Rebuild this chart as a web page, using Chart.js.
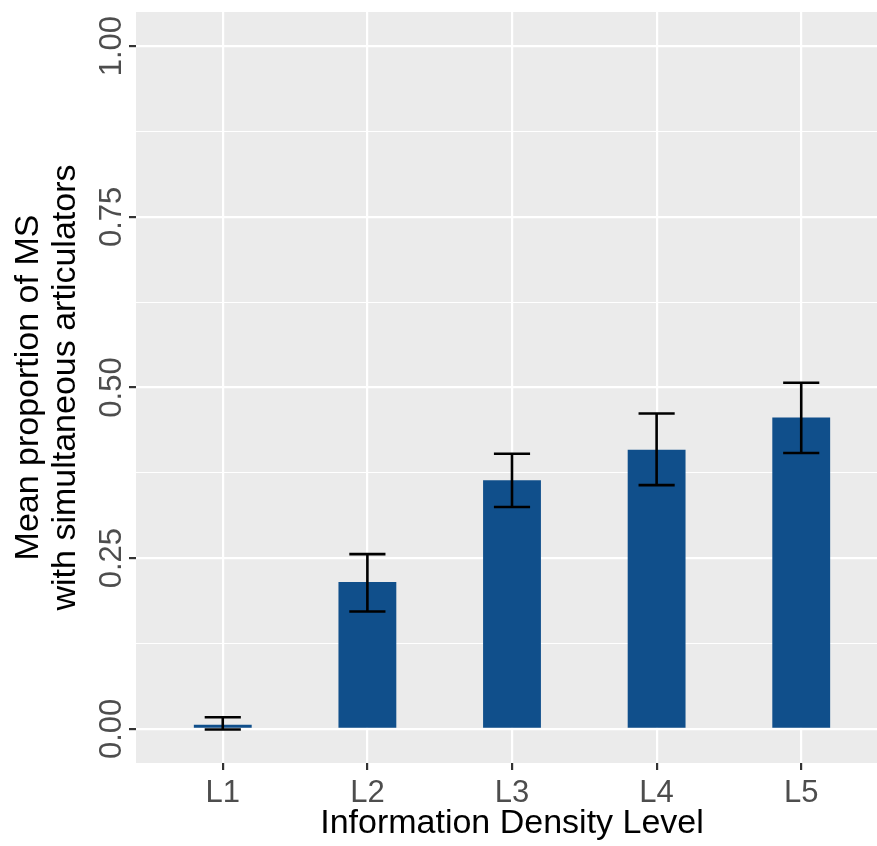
<!DOCTYPE html>
<html>
<head>
<meta charset="UTF-8">
<title>Information Density Level</title>
<script src="https://cdn.jsdelivr.net/npm/chart.js"></script>
<style>
html, body { margin: 0; background: #fff; overflow: hidden; }
</style>
</head>
<body>
<!-- the original plot is cropped on the right, so the canvas is a bit wider than the window -->
<canvas id="chart" width="888" height="846"></canvas>
<script>
// data
const levels = ["L1", "L2", "L3", "L4", "L5"];
const positions = [1, 2, 3, 4, 5];
const meanProp = [0.006, 0.215, 0.364, 0.409, 0.456];
const errLow = [-0.001, 0.172, 0.325, 0.357, 0.404];
const errHigh = [0.017, 0.256, 0.403, 0.462, 0.507];
const yMajor = [0, 0.25, 0.5, 0.75, 1];
const yMinor = [0.125, 0.375, 0.625, 0.875];
const yLabels = ["0.00", "0.25", "0.50", "0.75", "1.00"];

const FONT = '"Liberation Sans", Arial, sans-serif';

function isMajor(c) {
  return c.tick && yMajor.indexOf(c.tick.value) !== -1;
}

// grey ggplot panel
const panelBg = {
  id: 'panelBg',
  beforeDraw(chart) {
    const ctx = chart.ctx, a = chart.chartArea;
    ctx.save();
    ctx.fillStyle = '#ffffff';
    ctx.fillRect(0, 0, chart.width, chart.height);
    ctx.fillStyle = '#EBEBEB';
    ctx.fillRect(a.left, a.top, a.right - a.left, a.bottom - a.top);
    ctx.restore();
  }
};

// error bars on top of the bars
const errorBars = {
  id: 'errorBars',
  afterDatasetsDraw(chart) {
    const ctx = chart.ctx, xs = chart.scales.x, ys = chart.scales.y;
    ctx.save();
    ctx.strokeStyle = '#000000';
    ctx.lineWidth = 2.6;
    positions.forEach((p, i) => {
      const x = xs.getPixelForValue(p);
      const hw = xs.getPixelForValue(p + 0.125) - x;
      const yl = ys.getPixelForValue(errLow[i]);
      const yh = ys.getPixelForValue(errHigh[i]);
      ctx.beginPath();
      ctx.moveTo(x, yh); ctx.lineTo(x, yl);
      ctx.moveTo(x - hw, yh); ctx.lineTo(x + hw, yh);
      ctx.moveTo(x - hw, yl); ctx.lineTo(x + hw, yl);
      ctx.stroke();
    });
    ctx.restore();
  }
};

// rotated y tick labels like ggplot's angle = 90
const yTickLabels = {
  id: 'yTickLabels',
  afterDraw(chart) {
    const ctx = chart.ctx, ys = chart.scales.y;
    ctx.save();
    ctx.font = '31px ' + FONT;
    ctx.fillStyle = '#4D4D4D';
    ctx.textAlign = 'center';
    ctx.textBaseline = 'alphabetic';
    yMajor.forEach((v, i) => {
      ctx.save();
      ctx.translate(ys.right - 15, ys.getPixelForValue(v));
      ctx.rotate(-Math.PI / 2);
      ctx.fillText(yLabels[i], 0, 0);
      ctx.restore();
    });
    ctx.restore();
  }
};

new Chart(document.getElementById('chart'), {
  type: 'bar',
  data: {
    datasets: [{
      data: positions.map((p, i) => ({ x: p, y: meanProp[i] })),
      backgroundColor: '#104F8B',
      barPercentage: 0.4,
      categoryPercentage: 1
    }]
  },
  options: {
    responsive: false,
    animation: false,
    devicePixelRatio: 1,
    layout: { padding: { top: 12, right: 0, bottom: 0, left: 0 } },
    plugins: { legend: { display: false }, tooltip: { enabled: false } },
    scales: {
      x: {
        type: 'linear',
        min: 0.4,
        max: 5.6,
        offset: false,
        border: { display: false },
        grid: { offset: false, color: '#ffffff', lineWidth: 2.2, tickColor: '#333333', tickLength: 7, tickWidth: 2.2 },
        afterBuildTicks: a => { a.ticks = positions.map(v => ({ value: v })); },
        ticks: {
          callback: v => levels[v - 1],
          autoSkip: false, maxRotation: 0,
          font: { family: FONT, size: 31 },
          color: '#4D4D4D',
          padding: 5
        },
        title: {
          display: true,
          text: 'Information Density Level',
          font: { family: FONT, size: 34 },
          color: '#000000',
          padding: { top: 0, bottom: 2 }
        },
        afterFit: s => { s.height = 83; }
      },
      y: {
        min: -0.05,
        max: 1.05,
        border: { display: false },
        grid: {
          color: '#ffffff',
          lineWidth: c => isMajor(c) ? 2.2 : 1.1,
          tickColor: c => isMajor(c) ? '#333333' : 'rgba(0,0,0,0)',
          tickWidth: 2.2,
          tickLength: 7
        },
        afterBuildTicks: a => {
          a.ticks = yMajor.concat(yMinor).sort((p, q) => p - q).map(v => ({ value: v }));
        },
        ticks: { display: false },
        title: {
          display: true,
          text: ['Mean proportion of MS', 'with simultaneous articulators'],
          font: { family: FONT, size: 34, lineHeight: 1.1 },
          color: '#000000',
          padding: { top: 10, bottom: 0 }
        },
        afterFit: s => { s.width = 136; }
      }
    }
  },
  plugins: [panelBg, errorBars, yTickLabels]
});
</script>
</body>
</html>
